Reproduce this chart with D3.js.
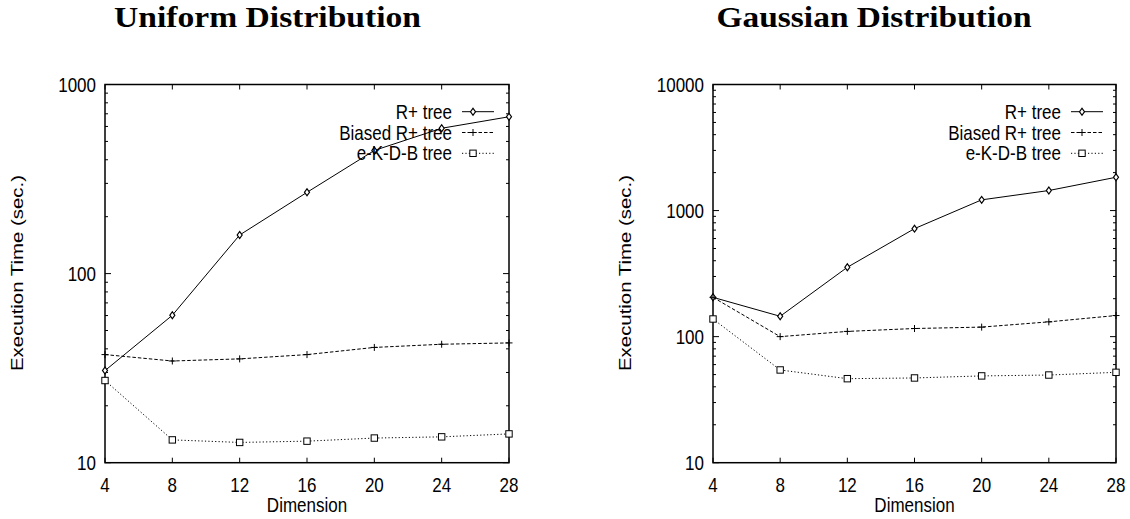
<!DOCTYPE html>
<html>
<head>
<meta charset="utf-8">
<script src="https://cdn.jsdelivr.net/npm/d3@7"></script>
<style>
  html, body { margin: 0; padding: 0; background: #fff; }
  svg { display: block; }
</style>
</head>
<body>
<svg id="chart" width="1130" height="519"></svg>
<script>
// ---- data ----
const dimensions = [4, 8, 12, 16, 20, 24, 28];
const seriesNames = ["R+ tree", "Biased R+ tree", "e-K-D-B tree"];

const uniformRplus  = [30.7, 60.2, 160, 269, 448, 587, 675];
const uniformBiased = [37.3, 34.5, 35.4, 37.3, 40.7, 42.3, 43];
const uniformEKDB   = [27.2, 13.2, 12.8, 13.0, 13.5, 13.7, 14.2];

const gaussRplus  = [205, 145, 355, 719, 1216, 1442, 1837];
const gaussBiased = [205, 100, 110, 116, 119, 131, 147];
const gaussEKDB   = [138, 54.4, 46.4, 47, 48.8, 49.6, 52.1];

const uniformYTicks = [10, 100, 1000];
const gaussYTicks = [10, 100, 1000, 10000];
const xTicks = [4, 8, 12, 16, 20, 24, 28];

const titles = ["Uniform Distribution", "Gaussian Distribution"];
const xLabel = "Dimension";
const yLabel = "Execution Time (sec.)";

// ---- drawing ----
const svg = d3.select("#chart");
const FONT = "'Liberation Sans', Arial, Helvetica, sans-serif";
const FS = 17;
const VS = 1.2; // vertical stretch of the original figure

function hText(g, x, y, str, anchor, size) {
  return g.append("text")
    .attr("transform", `translate(${x},${y}) scale(1,${VS})`)
    .attr("text-anchor", anchor)
    .attr("font-family", FONT)
    .attr("font-size", size || FS)
    .attr("fill", "#000")
    .text(str);
}

const panels = [
  { title: titles[0], titleX: 267.5, titleW: 307, x0: 105, x1: 509, yDomain: [10, 1000], yTicks: uniformYTicks,
    series: [uniformRplus, uniformBiased, uniformEKDB], yLabelX: 23, legendX: 452 },
  { title: titles[1], titleX: 874, titleW: 315, x0: 713, x1: 1116, yDomain: [10, 10000], yTicks: gaussYTicks,
    series: [gaussRplus, gaussBiased, gaussEKDB], yLabelX: 631, legendX: 1061 }
];

const yTop = 84.5, yBot = 462.7;
const dashes = [null, "3.5,2", "1.2,2.2"];
const markerTypes = [d3.symbolDiamond, d3.symbolCross, d3.symbolSquare];

function drawMarker(g, type, cx, cy) {
  if (type === 0) {
    g.append("path")
      .attr("d", d3.symbol().type(d3.symbolDiamond).size(14)())
      .attr("transform", `translate(${cx},${cy}) scale(1.25,1)`)
      .attr("fill", "#fff").attr("stroke", "#000").attr("stroke-width", 1);
  } else if (type === 1) {
    const s = 3.5;
    g.append("path")
      .attr("d", `M${cx - s},${cy}H${cx + s}M${cx},${cy - s}V${cy + s}`)
      .attr("stroke", "#000").attr("stroke-width", 1).attr("fill", "none");
  } else {
    const s = 3.2;
    g.append("rect")
      .attr("x", cx - s).attr("y", cy - s).attr("width", 2 * s).attr("height", 2 * s)
      .attr("fill", "#fff").attr("stroke", "#000").attr("stroke-width", 1);
  }
}

panels.forEach(p => {
  const g = svg.append("g");
  const x = d3.scaleLinear().domain([4, 28]).range([p.x0, p.x1]);
  const y = d3.scaleLog().domain(p.yDomain).range([yBot, yTop]);

  // title
  g.append("text")
    .attr("transform", `translate(${p.titleX},27) scale(1,${VS})`)
    .attr("text-anchor", "middle")
    .attr("font-family", "'Liberation Serif', 'DejaVu Serif', serif")
    .attr("font-weight", "bold")
    .attr("font-size", 24)
    .attr("textLength", p.titleW)
    .attr("lengthAdjust", "spacingAndGlyphs")
    .text(p.title);

  // minor / major y ticks (both sides, inward)
  const minor = [];
  const [lo, hi] = p.yDomain;
  for (let d = lo; d < hi; d *= 10) {
    for (let k = 2; k <= 9; k++) minor.push(d * k);
  }
  const tg = g.append("g").attr("stroke", "#000").attr("stroke-width", 1);
  minor.forEach(v => {
    tg.append("line").attr("x1", p.x0).attr("x2", p.x0 + 3).attr("y1", y(v)).attr("y2", y(v));
    tg.append("line").attr("x1", p.x1).attr("x2", p.x1 - 3).attr("y1", y(v)).attr("y2", y(v));
  });
  p.yTicks.forEach(v => {
    tg.append("line").attr("x1", p.x0).attr("x2", p.x0 + 6).attr("y1", y(v)).attr("y2", y(v));
    tg.append("line").attr("x1", p.x1).attr("x2", p.x1 - 6).attr("y1", y(v)).attr("y2", y(v));
    hText(g, p.x0 - 9, y(v) + 7.3, String(v), "end");
  });
  xTicks.forEach(v => {
    tg.append("line").attr("x1", x(v)).attr("x2", x(v)).attr("y1", yBot).attr("y2", yBot - 5);
    tg.append("line").attr("x1", x(v)).attr("x2", x(v)).attr("y1", yTop).attr("y2", yTop + 5);
    hText(g, x(v), 491.5, String(v), "middle");
  });

  // frame
  g.append("rect")
    .attr("x", p.x0).attr("y", yTop).attr("width", p.x1 - p.x0).attr("height", yBot - yTop)
    .attr("fill", "none").attr("stroke", "#000").attr("stroke-width", 1.5);

  // axis labels
  hText(g, (p.x0 + p.x1) / 2, 512, xLabel, "middle");
  g.append("text")
    .attr("transform", `translate(${p.yLabelX},273) rotate(-90) scale(${VS},1)`)
    .attr("text-anchor", "middle")
    .attr("font-family", FONT)
    .attr("font-size", FS)
    .text(yLabel);

  // series
  const line = d3.line().x((d, i) => x(dimensions[i])).y(d => y(d));
  p.series.forEach((vals, si) => {
    g.append("path")
      .attr("d", line(vals))
      .attr("fill", "none")
      .attr("stroke", "#000")
      .attr("stroke-width", 1)
      .attr("stroke-dasharray", dashes[si]);
  });
  p.series.forEach((vals, si) => {
    vals.forEach((v, i) => drawMarker(g, si, x(dimensions[i]), y(v)));
  });

  // legend
  const rows = [111.7, 132.5, 153.3];
  seriesNames.forEach((name, si) => {
    const ry = rows[si];
    hText(g, p.legendX, ry + 7, name, "end");
    g.append("line")
      .attr("x1", p.legendX + 10).attr("x2", p.legendX + 42)
      .attr("y1", ry).attr("y2", ry)
      .attr("stroke", "#000").attr("stroke-width", 1)
      .attr("stroke-dasharray", dashes[si]);
    drawMarker(g, si, p.legendX + 21, ry);
  });
});
</script>
</body>
</html>
